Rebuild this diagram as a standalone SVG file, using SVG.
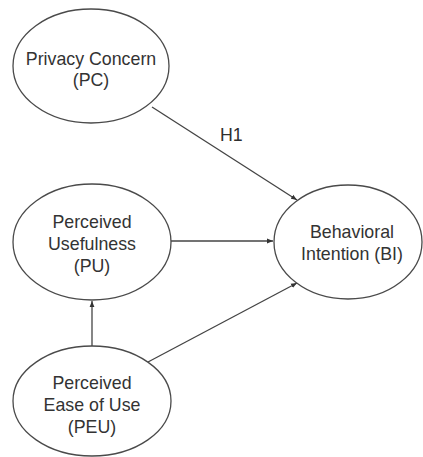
<svg xmlns="http://www.w3.org/2000/svg" width="423" height="457" viewBox="0 0 423 457">
  <style>
    .node ellipse { fill: #ffffff; stroke: #4a4a4a; stroke-width: 1.3; }
    .node text { font-family: "Liberation Sans", Arial, sans-serif; font-size: 17.8px; fill: #333333; text-anchor: middle; }
    .edges line { stroke: #444444; stroke-width: 1.3; marker-end: url(#arrow); }
    .label { font-family: "Liberation Sans", Arial, sans-serif; font-size: 17.8px; fill: #2e2e2e; }
  </style>
  <defs>
    <marker id="arrow" viewBox="0 0 10 10" refX="10" refY="5" markerWidth="6" markerHeight="6" markerUnits="userSpaceOnUse" orient="auto">
      <path d="M0,1 L10,5 L0,9 z" fill="#333333"/>
    </marker>
  </defs>
  <rect width="423" height="457" fill="#ffffff"/>

  <g class="edges">
    <line x1="152" y1="107" x2="297" y2="200"/>
    <line x1="171" y1="241" x2="273" y2="241"/>
    <line x1="92" y1="347" x2="92" y2="301"/>
    <line x1="148" y1="362" x2="297" y2="283"/>
  </g>
  <text class="label" x="220" y="141">H1</text>

  <g id="PC" class="node">
    <ellipse cx="91" cy="66" rx="78" ry="57"/>
    <text x="91" y="65">Privacy Concern</text>
    <text x="91" y="86">(PC)</text>
  </g>

  <g id="BI" class="node">
    <ellipse cx="348" cy="242" rx="74" ry="57"/>
    <text x="352" y="238">Behavioral</text>
    <text x="352" y="260">Intention (BI)</text>
  </g>

  <g id="PU" class="node">
    <ellipse cx="92" cy="242" rx="79" ry="58"/>
    <text x="92" y="228">Perceived</text>
    <text x="92" y="250">Usefulness</text>
    <text x="92" y="272">(PU)</text>
  </g>

  <g id="PEU" class="node">
    <ellipse cx="92" cy="401" rx="79" ry="55"/>
    <text x="92" y="389">Perceived</text>
    <text x="92" y="411">Ease of Use</text>
    <text x="92" y="433">(PEU)</text>
  </g>
</svg>
